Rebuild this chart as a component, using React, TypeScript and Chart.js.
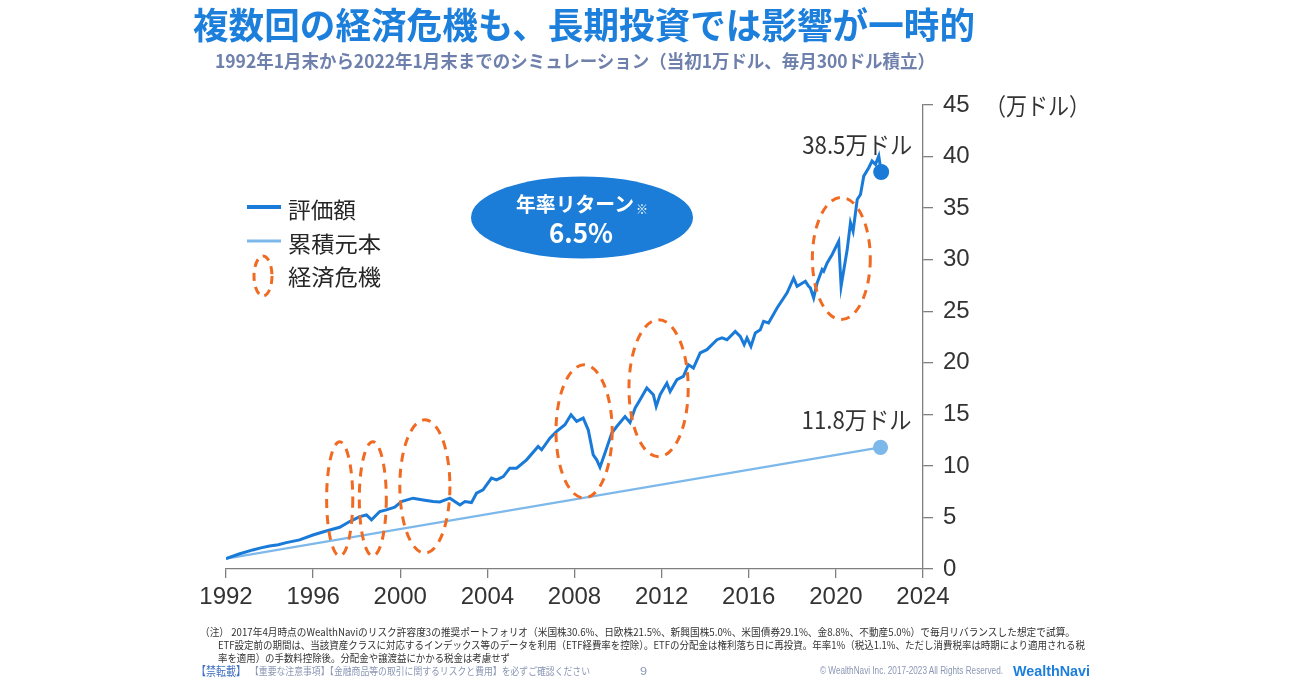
import React, { useEffect, useLayoutEffect, useRef } from "react";
import { Chart, registerables } from "chart.js";

Chart.register(...registerables);

// ---------- data ----------
const valueYears = [
  1992.0, 1992.6, 1993.23, 1993.6, 1994.0, 1994.4, 1994.77, 1995.38, 1995.99, 1996.6,
  1997.22, 1997.68, 1998.14, 1998.45, 1998.68, 1999.06, 1999.36, 1999.75, 2000.05, 2000.59,
  2001.05, 2001.51, 2001.82, 2002.28, 2002.74, 2002.97, 2003.27, 2003.5, 2003.8, 2004.19,
  2004.42, 2004.73, 2005.03, 2005.34, 2005.8, 2006.33, 2006.49, 2006.87, 2007.18, 2007.56,
  2007.84, 2008.1, 2008.4, 2008.63, 2008.86, 2009.02, 2009.17, 2009.4, 2009.71, 2009.94,
  2010.32, 2010.55, 2010.78, 2011.01, 2011.32, 2011.62, 2011.75, 2011.93, 2012.24, 2012.39,
  2012.7, 2013.0, 2013.23, 2013.46, 2013.77, 2014.08, 2014.54, 2014.77, 2015.0, 2015.38,
  2015.61, 2015.79, 2015.92, 2016.1, 2016.3, 2016.53, 2016.68, 2016.91, 2017.3, 2017.76,
  2018.06, 2018.22, 2018.6, 2018.75, 2018.83, 2018.98, 2019.14, 2019.37, 2019.44, 2019.6,
  2019.83, 2020.13, 2020.24, 2020.52, 2020.67, 2020.79, 2020.98, 2021.13, 2021.28, 2021.51,
  2021.66, 2021.82, 2021.97, 2022.08,
];
const valueAmounts = [
  1.0, 1.45, 1.85, 2.05, 2.23, 2.35, 2.56, 2.82, 3.3, 3.69,
  4.05, 4.6, 5.08, 5.24, 4.76, 5.57, 5.73, 5.99, 6.54, 6.87,
  6.7, 6.54, 6.5, 6.87, 6.21, 6.54, 6.44, 7.35, 7.67, 8.81,
  8.64, 8.96, 9.78, 9.78, 10.59, 11.88, 11.56, 12.69, 13.34, 13.99,
  14.96, 14.31, 14.63, 13.5, 11.07, 10.59, 9.87, 11.24, 13.18, 13.82,
  14.79, 14.2, 15.6, 16.41, 17.55, 16.9, 15.77, 16.9, 18.03, 17.22,
  18.36, 18.68, 19.81, 19.49, 20.95, 21.27, 22.24, 22.41, 22.24, 23.05,
  22.56, 21.76, 22.41, 21.59, 22.89, 23.21, 24.02, 23.86, 25.32, 26.78,
  28.2, 27.42, 27.9, 27.42, 27.26, 26.29, 27.75, 29.04, 28.88, 29.69,
  30.5, 31.79, 27.42, 30.98, 33.58, 32.76, 35.84, 36.32, 38.1, 38.92,
  39.56, 39.24, 40.05, 38.5,
];
const principalYears = [1992.0, 2022.05];
const principalAmounts = [1.0, 11.8];

const xMin = 1992;
const xMax = 2024;
const xStep = 4;
const yMin = 0;
const yMax = 45;
const yStep = 5;

// crisis ellipses (centre & half-extent, in data units)
const crisisYears = [1997.22, 1998.74, 2001.13, 2008.44, 2011.86, 2020.25];
const crisisAmounts = [6.8, 6.8, 8.01, 13.35, 17.53, 30.11];
const crisisHalfYears = [0.6, 0.62, 1.15, 1.29, 1.36, 1.33];
const crisisHalfAmounts = [5.54, 5.54, 6.46, 6.46, 6.65, 5.92];

const seriesNames = ["評価額", "累積元本"];
const crisisName = "経済危機";
const endLabels = ["38.5万ドル", "11.8万ドル"];
const yUnit = "（万ドル）";
const titleText = "複数回の経済危機も、長期投資では影響が一時的";
const subtitleText = "1992年1月末から2022年1月末までのシミュレーション（当初1万ドル、毎月300ドル積立）";
const returnLabel = "年率リターン";
const returnMark = "※";
const returnValue = "6.5%";
const noteLines = [
  "（注） 2017年4月時点のWealthNaviのリスク許容度3の推奨ポートフォリオ（米国株30.6%、日欧株21.5%、新興国株5.0%、米国債券29.1%、金8.8%、不動産5.0%）で毎月リバランスした想定で試算。",
  "ETF設定前の期間は、当該資産クラスに対応するインデックス等のデータを利用（ETF経費率を控除）。ETFの分配金は権利落ち日に再投資。年率1%（税込1.1%、ただし消費税率は時期により適用される税",
  "率を適用）の手数料控除後。分配金や譲渡益にかかる税金は考慮せず",
];
const footerBan = "【禁転載】";
const footerNotice = "【重要な注意事項】【金融商品等の取引に関するリスクと費用】を必ずご確認ください";
const pageNumber = "9";
const copyright = "© WealthNavi Inc. 2017-2023 All Rights Reserved.";
const brand = "WealthNavi";

// ---------- styles ----------
const JP = '"Noto Sans CJK JP", "Noto Sans", sans-serif';
const LAT = '"Liberation Sans", Arial, "Noto Sans CJK JP", sans-serif';
const VALUE_COLOR = "#1A7AD8";
const PRINCIPAL_COLOR = "#7DB8EA";
const ORANGE = "#F06A22";
const AXIS_COLOR = "#7F7F7F";
const TEXT_COLOR = "#333333";

type FitProps = {
  text: string;
  left: number;
  cy: number;
  width: number;
  size: number;
  color: string;
  weight?: number;
  family?: string;
  align?: "left" | "center";
};

function FitText({ text, left, cy, width, size, color, weight = 400, family = JP, align = "left" }: FitProps) {
  const ref = useRef<HTMLDivElement>(null);
  useLayoutEffect(() => {
    const fit = () => {
      const el = ref.current;
      if (!el) return;
      el.style.transform = "translateY(-50%)";
      const w = el.getBoundingClientRect().width;
      if (w > 0) {
        const s = width / w;
        const dx = align === "center" ? -width / 2 : 0;
        el.style.transform = `translate(${dx}px, -50%) scaleX(${s})`;
      }
    };
    fit();
    const fonts = (document as any).fonts;
    if (fonts && fonts.ready) fonts.ready.then(fit);
  }, [text, width, size, align]);
  return (
    <div
      ref={ref}
      style={{
        position: "absolute",
        left,
        top: cy,
        fontSize: size,
        lineHeight: 1,
        whiteSpace: "nowrap",
        color,
        fontWeight: weight,
        fontFamily: family,
        transformOrigin: "left center",
        transform: "translateY(-50%)",
      }}
    >
      {text}
    </div>
  );
}

const crisisPlugin = {
  id: "crisisEllipses",
  afterDatasetsDraw(chart: any) {
    const { ctx, scales } = chart;
    const xs = scales.x;
    const ys = scales.y;
    ctx.save();
    ctx.strokeStyle = ORANGE;
    ctx.lineWidth = 3;
    ctx.setLineDash([9, 7]);
    for (let i = 0; i < crisisYears.length; i++) {
      const cx = xs.getPixelForValue(crisisYears[i]);
      const cy = ys.getPixelForValue(crisisAmounts[i]);
      const rx = Math.abs(xs.getPixelForValue(crisisYears[i] + crisisHalfYears[i]) - cx);
      const ry = Math.abs(ys.getPixelForValue(crisisAmounts[i] + crisisHalfAmounts[i]) - cy);
      ctx.beginPath();
      ctx.ellipse(cx, cy, rx, ry, 0, 0, Math.PI * 2);
      ctx.stroke();
    }
    ctx.restore();

    // end labels
    ctx.save();
    ctx.fillStyle = TEXT_COLOR;
    ctx.font = `24px ${JP}`;
    ctx.textBaseline = "middle";
    ctx.textAlign = "left";
    chart.data.datasets.forEach((ds: any, i: number) => {
      const meta = chart.getDatasetMeta(i);
      const pt = meta.data[meta.data.length - 1];
      if (!pt) return;
      const label = endLabels[i];
      const w = ctx.measureText(label).width;
      const target = 110;
      const sx = target / w;
      ctx.save();
      ctx.translate(pt.x + 31 - target, pt.y - 27);
      ctx.scale(sx, 1);
      ctx.fillText(label, 0, 0);
      ctx.restore();
    });
    ctx.restore();
  },
};

function ChartCanvas() {
  const ref = useRef<HTMLCanvasElement>(null);
  useEffect(() => {
    const canvas = ref.current;
    if (!canvas) return;
    const valuePts = valueYears.map((x, i) => ({ x, y: valueAmounts[i] }));
    const principalPts = principalYears.map((x, i) => ({ x, y: principalAmounts[i] }));
    const lastRadius = (n: number) => (c: any) => (c.dataIndex === n - 1 ? 6.5 : 0);
    const chart = new Chart(canvas, {
      type: "line",
      data: {
        datasets: [
          {
            label: seriesNames[0],
            data: valuePts,
            borderColor: VALUE_COLOR,
            backgroundColor: VALUE_COLOR,
            borderWidth: 3,
            pointRadius: lastRadius(valuePts.length),
            pointHoverRadius: 0,
            tension: 0,
            order: 1,
          },
          {
            label: seriesNames[1],
            data: principalPts,
            borderColor: PRINCIPAL_COLOR,
            backgroundColor: PRINCIPAL_COLOR,
            borderWidth: 2.2,
            pointRadius: lastRadius(principalPts.length),
            pointHoverRadius: 0,
            tension: 0,
            order: 2,
          },
        ],
      },
      options: {
        responsive: false,
        animation: false,
        events: [],
        layout: { padding: { left: 226, top: 105, right: 0, bottom: 0 } },
        plugins: {
          legend: { display: false },
          tooltip: { enabled: false },
          title: { display: false },
        },
        scales: {
          x: {
            type: "linear",
            min: xMin,
            max: xMax,
            grid: { drawOnChartArea: false, drawTicks: true, tickLength: 9, color: AXIS_COLOR, lineWidth: 1.3 },
            border: { display: true, color: AXIS_COLOR, width: 1.3 },
            ticks: {
              stepSize: xStep,
              color: TEXT_COLOR,
              padding: 5,
              maxRotation: 0,
              font: { family: LAT, size: 24 },
              callback: (v: any) => String(v),
            },
            afterFit: (s: any) => {
              s.height = 114;
            },
          },
          y: {
            type: "linear",
            position: "right",
            min: yMin,
            max: yMax,
            grid: { drawOnChartArea: false, drawTicks: true, tickLength: 10, color: AXIS_COLOR, lineWidth: 1.3 },
            border: { display: true, color: AXIS_COLOR, width: 1.3 },
            ticks: {
              stepSize: yStep,
              color: TEXT_COLOR,
              padding: 10,
              font: { family: LAT, size: 24 },
              callback: (v: any) => String(v),
            },
            afterFit: (s: any) => {
              s.width = 377;
            },
          },
        },
      },
      plugins: [crisisPlugin],
    } as any);
    return () => chart.destroy();
  }, []);
  return (
    <canvas
      ref={ref}
      width={1300}
      height={683}
      style={{ position: "absolute", left: 0, top: 0, width: 1300, height: 683, display: "block" }}
    />
  );
}

export default function App() {
  return (
    <div
      style={{
        position: "absolute",
        left: 0,
        top: 0,
        width: 1300,
        height: 683,
        background: "#ffffff",
        overflow: "hidden",
      }}
    >
      <ChartCanvas />
      <svg width={1300} height={683} style={{ position: "absolute", left: 0, top: 0 }}>
        <line x1={247} y1={207} x2={281} y2={207} stroke={VALUE_COLOR} strokeWidth={4} />
        <line x1={247} y1={241} x2={281} y2={241} stroke={PRINCIPAL_COLOR} strokeWidth={3} />
        <ellipse cx={263} cy={276} rx={9} ry={20} fill="none" stroke={ORANGE} strokeWidth={3} strokeDasharray="8 6" />
        <ellipse cx={582} cy={217.5} rx={111} ry={41} fill="#1B7DD8" />
      </svg>

      <FitText text={titleText} left={193} cy={23} width={782} size={36} weight={700} color="#1C7FDB" />
      <FitText text={subtitleText} left={215} cy={60} width={720} size={18} weight={700} color="#6F80AC" />

      <FitText text={seriesNames[0]} left={288} cy={208} width={68} size={22} color="#262626" />
      <FitText text={seriesNames[1]} left={288} cy={242} width={93} size={22} color="#262626" />
      <FitText text={crisisName} left={288} cy={275} width={93} size={22} color="#262626" />

      <FitText text={returnLabel} left={516} cy={204} width={118} size={20} weight={700} color="#ffffff" />
      <FitText text={returnMark} left={636} cy={209} width={12} size={12} weight={700} color="#ffffff" />
      <FitText text={returnValue} left={549} cy={231} width={64} size={27} weight={700} color="#ffffff" family={JP} />

      <FitText text={yUnit} left={985} cy={105} width={105} size={24} color={TEXT_COLOR} />

      <FitText text={noteLines[0]} left={200} cy={632} width={875} size={10.5} color={TEXT_COLOR} />
      <FitText text={noteLines[1]} left={218} cy={645} width={867} size={10.5} color={TEXT_COLOR} />
      <FitText text={noteLines[2]} left={218} cy={658} width={292} size={10.5} color={TEXT_COLOR} />

      <FitText text={footerBan} left={196} cy={671} width={50} size={12} color="#3E6FC0" />
      <FitText text={footerNotice} left={250} cy={671} width={340} size={10} color="#8A96B4" />
      <FitText text={pageNumber} left={640} cy={671} width={7} size={11} color="#8A96B4" family={LAT} />
      <FitText text={copyright} left={820} cy={671} width={183} size={10} color="#8A96B4" family={LAT} />
      <FitText text={brand} left={1013} cy={670} width={77} size={15} weight={700} color="#1C7FDB" family={LAT} />
    </div>
  );
}
